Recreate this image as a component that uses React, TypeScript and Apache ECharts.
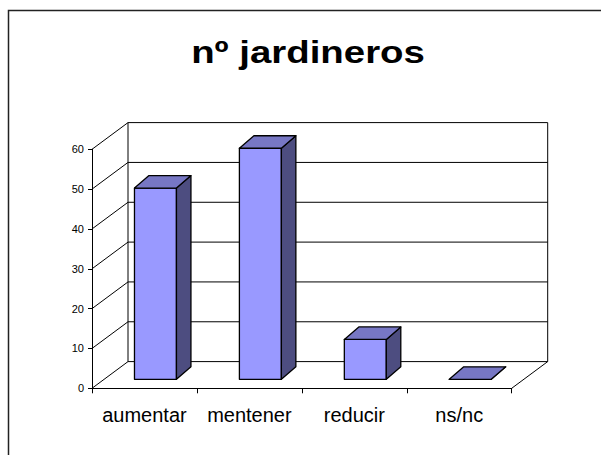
import React, { useEffect, useRef } from "react";
import * as echarts from "echarts";

const title = "nº jardineros";
const categories = ["aumentar", "mentener", "reducir", "ns/nc"];
const values = [48, 58, 10, 0];
const gridValues = [0, 10, 20, 30, 40, 50, 60];

const FONT = "Arial, 'Liberation Sans', sans-serif";

export default function App() {
  const ref = useRef<HTMLDivElement>(null);
  useEffect(() => {
    if (!ref.current) return;
    const chart = echarts.init(ref.current, undefined, { renderer: "svg" });
    const WALL_DX = 36;
    const WALL_DY = -26.7;
    const BAR_OX = 11;
    const BAR_OY = -9;
    const BAR_DX = 14.5;
    const BAR_DY = -12.5;
    const lineStyle = { stroke: "#000", lineWidth: 1, fill: null };

    const option: any = {
      animation: false,
      backgroundColor: "#fff",
      textStyle: { fontFamily: FONT },
      graphic: [
        {
          type: "rect",
          shape: { x: 8.5, y: 10.5, width: 700, height: 500 },
          style: { fill: "none", stroke: "#222", lineWidth: 1.5 },
          silent: true,
          z: -10,
        },
        {
          type: "text",
          x: 308,
          y: 52,
          scaleX: 1.2,
          style: {
            text: title,
            font: `bold 32px ${FONT}`,
            fill: "#000",
            align: "center",
            verticalAlign: "middle",
          },
        },
      ],
      grid: { left: 92, top: 149.3, width: 419.7, height: 239, containLabel: false },
      xAxis: {
        type: "category",
        data: categories,
        axisLine: { show: true, lineStyle: { color: "#000", width: 1 } },
        axisTick: { show: true, length: 5, lineStyle: { color: "#000" } },
        axisLabel: {
          fontSize: 20,
          color: "#000",
          margin: 17,
          fontFamily: FONT,
          interval: 0,
          hideOverlap: false,
        },
        splitLine: { show: false },
      },
      yAxis: {
        type: "value",
        min: 0,
        max: 60,
        interval: 10,
        axisLine: { show: true, lineStyle: { color: "#000", width: 1 } },
        axisTick: { show: true, length: 4, lineStyle: { color: "#000" } },
        axisLabel: { fontSize: 11, color: "#000", margin: 8, fontFamily: FONT },
        splitLine: { show: false },
      },
      series: [
        {
          type: "custom",
          z: 1,
          silent: true,
          data: gridValues.map((v) => [0, v]),
          renderItem: (params: any, api: any) => {
            const cs = params.coordSys;
            const v = api.value(1);
            const y = api.coord([0, v])[1];
            const x0 = cs.x;
            const x1 = cs.x + cs.width;
            const children: any[] = [
              {
                type: "line",
                shape: { x1: x0, y1: y, x2: x0 + WALL_DX, y2: y + WALL_DY },
                style: lineStyle,
              },
              {
                type: "line",
                shape: { x1: x0 + WALL_DX, y1: y + WALL_DY, x2: x1 + WALL_DX, y2: y + WALL_DY },
                style: lineStyle,
              },
            ];
            if (params.dataIndex === 0) {
              const yTop = cs.y;
              children.push(
                {
                  type: "line",
                  shape: { x1: x1, y1: y, x2: x1 + WALL_DX, y2: y + WALL_DY },
                  style: lineStyle,
                },
                {
                  type: "line",
                  shape: { x1: x0 + WALL_DX, y1: y + WALL_DY, x2: x0 + WALL_DX, y2: yTop + WALL_DY },
                  style: lineStyle,
                },
                {
                  type: "line",
                  shape: { x1: x1 + WALL_DX, y1: y + WALL_DY, x2: x1 + WALL_DX, y2: yTop + WALL_DY },
                  style: lineStyle,
                }
              );
            }
            return { type: "group", children };
          },
        },
        {
          type: "custom",
          z: 5,
          data: values.map((v, i) => [i, v]),
          renderItem: (params: any, api: any) => {
            const i = api.value(0);
            const v = api.value(1);
            const base = api.coord([i, 0]);
            const top = api.coord([i, v]);
            const w = api.size([1, 0])[0] * 0.4;
            const xl = base[0] - w / 2 + BAR_OX;
            const xr = xl + w;
            const yb = base[1] + BAR_OY;
            const yt = top[1] + BAR_OY;
            const edge = { stroke: "#000", lineWidth: 1.3, lineJoin: "round" };
            return {
              type: "group",
              children: [
                {
                  type: "polygon",
                  shape: { points: [[xl, yb], [xr, yb], [xr, yt], [xl, yt]] },
                  style: { fill: "#9999FF", ...edge },
                },
                {
                  type: "polygon",
                  shape: {
                    points: [
                      [xr, yb],
                      [xr + BAR_DX, yb + BAR_DY],
                      [xr + BAR_DX, yt + BAR_DY],
                      [xr, yt],
                    ],
                  },
                  style: { fill: "#4D4D80", ...edge },
                },
                {
                  type: "polygon",
                  shape: {
                    points: [
                      [xl, yt],
                      [xr, yt],
                      [xr + BAR_DX, yt + BAR_DY],
                      [xl + BAR_DX, yt + BAR_DY],
                    ],
                  },
                  style: { fill: "#7777C4", ...edge },
                },
              ],
            };
          },
        },
      ],
    };
    chart.setOption(option);
    return () => chart.dispose();
  }, []);
  return (
    <div
      ref={ref}
      style={{ position: "fixed", left: 0, top: 0, width: 601, height: 455, background: "#fff" }}
    />
  );
}
